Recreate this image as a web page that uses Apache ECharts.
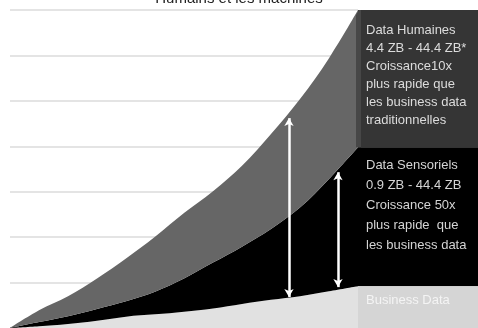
<!DOCTYPE html>
<html>
<head>
<meta charset="utf-8">
<script src="https://cdn.jsdelivr.net/npm/echarts@6/dist/echarts.min.js"></script>
<style>html,body{margin:0;padding:0;background:#fff;}#c{width:478px;height:328px;}</style>
</head>
<body>
<div id="c"></div>
<script>
const titleText = 'Humains et les machines';
const xs = ['0','1','2','3','4','5','6','7','8','9','10','11','12'];
const business = [0,0.04,0.09,0.16,0.25,0.30,0.36,0.43,0.53,0.62,0.70,0.81,0.92];
const sensor =   [0,0.09,0.17,0.26,0.34,0.50,0.73,1.01,1.26,1.56,1.95,2.47,3.06];
const human =    [0,0.26,0.44,0.67,0.94,1.21,1.44,1.57,1.78,2.09,2.39,2.66,3.02];
const arrowX = [9.62, 11.31];
const arrowLow = [0.68, 0.90];
const arrowHigh = [4.62, 3.43];
const humanText = ['Data Humaines','4.4 ZB - 44.4 ZB*','Croissance10x','plus rapide que','les business data','traditionnelles'];
const sensorText = ['Data Sensoriels','0.9 ZB - 44.4 ZB','Croissance 50x','plus rapide  que','les business data'];
const businessText = ['Business Data'];

const chart = echarts.init(document.getElementById('c'));
const areaSeries = (name, arr, color) => ({
  name, type:'line', stack:'total', data: arr, smooth:0.35,
  symbol:'none', lineStyle:{width:0}, areaStyle:{color, opacity:1}, z:2, silent:true
});
const option = {
  animation:false,
  title:{text:titleText, left:'center', top:-14, textStyle:{fontSize:15, fontWeight:'normal', color:'#222', fontFamily:'Liberation Sans'}},
  grid:{left:10, right:120, top:10, bottom:0},
  xAxis:[
    {type:'category', data:xs, boundaryGap:false, show:false},
    {type:'value', min:0, max:xs.length-1, show:false}
  ],
  yAxis:{type:'value', min:0, max:7, interval:1, axisLabel:{show:false}, axisLine:{show:false}, axisTick:{show:false},
    splitLine:{lineStyle:{color:'#e4e4e4', width:2}}},
  series:[
    areaSeries('Business Data', business, '#e1e1e1'),
    areaSeries('Data Sensoriels', sensor, '#000000'),
    areaSeries('Data Humaines', human, '#666666'),
    {type:'line', xAxisIndex:1, data:[], z:5, silent:true,
      markLine:{silent:true, symbol:['arrow','arrow'], symbolSize:[7,8], label:{show:false},
        lineStyle:{color:'#ffffff', width:2.5, type:'solid'},
        data: arrowX.map((x,i)=>[{coord:[x, arrowLow[i]]},{coord:[x, arrowHigh[i]]}])}}
  ]
};
chart.setOption(option);

const last = xs.length-1;
const tot1 = business[last];
const tot2 = tot1 + sensor[last];
const tot3 = tot2 + human[last];
const px = v => chart.convertToPixel({gridIndex:0}, [last, v]);
const xEdge = px(0)[0];
const yTop = px(tot3)[1], y2 = px(tot2)[1], y1 = px(tot1)[1], yBot = px(0)[1];
const W = 478;
const font = '13px "Liberation Sans", sans-serif';
chart.setOption({graphic:[
  {type:'rect', shape:{x:xEdge, y:yTop, width:W-xEdge, height:y2-yTop}, style:{fill:'#353535'}, z:10},
  {type:'polygon', shape:{points:[[xEdge-2,yTop+5],[xEdge+1,yTop],[xEdge+3,yTop],[xEdge+3,y2],[xEdge-2,y2]]}, style:{fill:'#474747'}, z:10},
  {type:'rect', shape:{x:xEdge, y:y2, width:W-xEdge, height:y1-y2}, style:{fill:'#000'}, z:10},
  {type:'rect', shape:{x:xEdge, y:y1, width:W-xEdge, height:yBot-y1}, style:{fill:'#d5d5d5'}, z:10},
  {type:'text', x:xEdge+8, y:yTop+11, z:11, style:{text:humanText.join('\n'), font, fill:'#dcdcdc', lineHeight:18, verticalAlign:'top'}},
  {type:'text', x:xEdge+8, y:y2+8, z:11, style:{text:sensorText.join('\n'), font, fill:'#d4d4d4', lineHeight:20, verticalAlign:'top'}},
  {type:'text', x:xEdge+8, y:y1+5, z:11, style:{text:businessText.join('\n'), font, fill:'#f4f4f4', lineHeight:18, verticalAlign:'top'}}
]});
</script>
</body>
</html>
